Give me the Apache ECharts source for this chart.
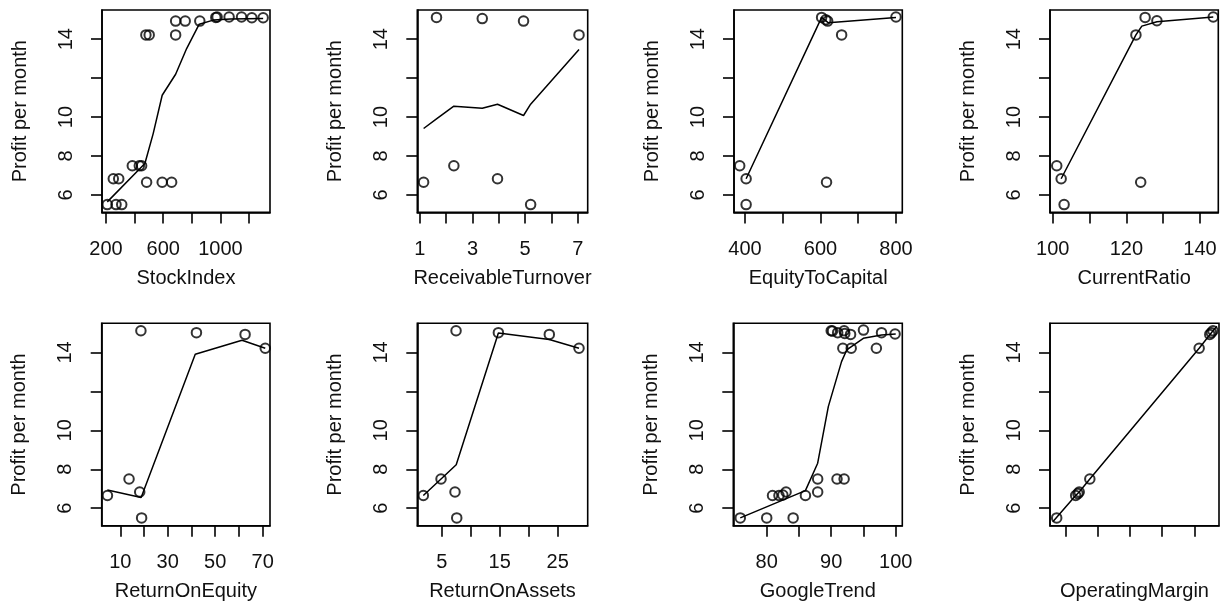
<!DOCTYPE html>
<html>
<head>
<meta charset="utf-8">
<script src="https://cdn.jsdelivr.net/npm/echarts@6/dist/echarts.min.js"></script>
<style>
html,body{margin:0;padding:0;background:#fff;}
#chart{width:1228px;height:605px;}
</style>
</head>
<body>
<div id="chart"></div>
<script>
// ---- Data ----
var yTitle = "Profit per month";
var yTicks = [6, 8, 10, 12, 14];
var yTickLabels = [6, 8, 10, 14];

// StockIndex
var stockIndexX = [209, 270, 310, 251, 289, 384, 433, 449, 484, 593, 659, 479, 502, 687, 687, 754, 856, 968, 977, 1061, 1148, 1220, 1299];
var stockIndexY = [5.5, 5.5, 5.5, 6.83, 6.83, 7.5, 7.5, 7.5, 6.65, 6.65, 6.65, 14.22, 14.22, 14.22, 14.93, 14.93, 14.93, 15.12, 15.14, 15.14, 15.14, 15.1, 15.1];
var stockIndexFitX = [209, 472, 530, 593, 687, 764, 852, 950, 1070, 1299];
var stockIndexFitY = [5.64, 7.61, 9.15, 11.12, 12.2, 13.52, 14.77, 14.98, 15.04, 15.06];
var stockIndexTicks = [200, 400, 600, 800, 1000, 1200];
var stockIndexLabels = [200, 600, 1000];

// ReceivableTurnover
var receivableX = [1.14, 1.63, 2.29, 3.37, 3.95, 4.94, 5.21, 7.05];
var receivableY = [6.65, 15.12, 7.5, 15.06, 6.83, 14.93, 5.5, 14.22];
var receivableFitX = [1.14, 1.63, 2.29, 3.37, 3.95, 4.94, 5.21, 7.05];
var receivableFitY = [9.41, 9.91, 10.56, 10.45, 10.66, 10.08, 10.66, 13.47];
var receivableTicks = [1, 2, 3, 4, 5, 6, 7];
var receivableLabels = [1, 3, 5, 7];

// EquityToCapital
var equityX = [386, 403, 403, 603, 614, 619, 616, 656, 800];
var equityY = [7.5, 6.83, 5.5, 15.12, 15.0, 14.93, 6.65, 14.22, 15.14];
var equityFitX = [403, 603, 621, 800];
var equityFitY = [6.83, 15.12, 14.84, 15.12];
var equityTicks = [400, 500, 600, 700, 800];
var equityLabels = [400, 600, 800];

// CurrentRatio
var currentX = [101.1, 102.3, 103.1, 122.6, 123.9, 125.1, 128.3, 143.6];
var currentY = [7.5, 6.83, 5.5, 14.22, 6.65, 15.12, 14.95, 15.14];
var currentFitX = [102.3, 122.6, 124.2, 128.3, 143.6];
var currentFitY = [6.83, 14.22, 14.67, 14.9, 15.14];
var currentTicks = [100, 110, 120, 130, 140];
var currentLabels = [100, 120, 140];

// ReturnOnEquity
var roeX = [4.6, 13.7, 18.2, 19.0, 18.7, 42.1, 62.6, 71.1];
var roeY = [6.65, 7.5, 6.83, 5.5, 15.12, 15.02, 14.93, 14.22];
var roeFitX = [4.6, 18.8, 41.6, 61.3, 71.1];
var roeFitY = [6.93, 6.55, 13.91, 14.63, 14.22];
var roeTicks = [10, 20, 30, 40, 50, 60, 70];
var roeLabels = [10, 30, 50, 70];

// ReturnOnAssets
var roaX = [1.83, 4.88, 7.29, 7.59, 7.47, 14.77, 23.55, 28.67];
var roaY = [6.65, 7.5, 6.83, 5.5, 15.12, 15.02, 14.93, 14.22];
var roaFitX = [1.83, 4.88, 7.5, 14.77, 23.55, 28.67];
var roaFitY = [6.65, 7.5, 8.23, 15.0, 14.67, 14.22];
var roaTicks = [5, 10, 15, 20, 25];
var roaLabels = [5, 15, 25];

// GoogleTrend
var googleX = [75.9, 80.0, 84.1, 80.9, 81.9, 82.5, 83.0, 86.0, 87.9, 87.9, 90.9, 92.0, 90.0, 90.2, 91.0, 92.0, 92.1, 93.0, 95.0, 97.8, 99.9, 91.8, 93.1, 97.0];
var googleY = [5.5, 5.5, 5.5, 6.65, 6.65, 6.68, 6.83, 6.65, 7.5, 6.83, 7.5, 7.5, 15.12, 15.1, 15.02, 15.12, 14.98, 14.93, 15.15, 15.02, 14.95, 14.22, 14.22, 14.22];
var googleFitX = [75.9, 86.0, 87.9, 89.55, 91.6, 92.4, 94.98, 97.8, 100.0];
var googleFitY = [5.5, 6.9, 8.31, 11.22, 13.53, 14.13, 14.73, 14.9, 14.95];
var googleTicks = [80, 85, 90, 95, 100];
var googleLabels = [80, 90, 100];

// OperatingMargin
var marginX = [0.72, 1.31, 1.38, 1.42, 1.75, 5.15, 5.48, 5.53, 5.58];
var marginY = [5.5, 6.65, 6.75, 6.83, 7.5, 14.22, 14.93, 15.02, 15.12];
var marginFitX = [0.6, 1.31, 1.42, 1.75, 5.15, 5.58, 5.7];
var marginFitY = [5.3, 6.65, 6.83, 7.5, 14.22, 15.12, 15.35];
var marginTicks = [1, 2, 3, 4, 5];
var marginLabels = [];

// ---- Panel layout ----
var panels = [
  {name: "StockIndex", x: stockIndexX, y: stockIndexY, fx: stockIndexFitX, fy: stockIndexFitY, ticks: stockIndexTicks, labels: stockIndexLabels, min: 172, max: 1347, left: 102, top: 10, w: 168},
  {name: "ReceivableTurnover", x: receivableX, y: receivableY, fx: receivableFitX, fy: receivableFitY, ticks: receivableTicks, labels: receivableLabels, min: 0.9, max: 7.38, left: 417.3, top: 10, w: 170.4},
  {name: "EquityToCapital", x: equityX, y: equityY, fx: equityFitX, fy: equityFitY, ticks: equityTicks, labels: equityLabels, min: 370.9, max: 816.7, left: 734, top: 10, w: 168.3},
  {name: "CurrentRatio", x: currentX, y: currentY, fx: currentFitX, fy: currentFitY, ticks: currentTicks, labels: currentLabels, min: 99.27, max: 144.97, left: 1050, top: 10, w: 168.3},
  {name: "ReturnOnEquity", x: roeX, y: roeY, fx: roeFitX, fy: roeFitY, ticks: roeTicks, labels: roeLabels, min: 2.18, max: 73.1, left: 101.7, top: 323.3, w: 168.3},
  {name: "ReturnOnAssets", x: roaX, y: roaY, fx: roaFitX, fy: roaFitY, ticks: roaTicks, labels: roaLabels, min: 0.79, max: 30.17, left: 417.3, top: 323.3, w: 170.4},
  {name: "GoogleTrend", x: googleX, y: googleY, fx: googleFitX, fy: googleFitY, ticks: googleTicks, labels: googleLabels, min: 74.82, max: 101.02, left: 733.3, top: 323.3, w: 169},
  {name: "OperatingMargin", x: marginX, y: marginY, fx: marginFitX, fy: marginFitY, ticks: marginTicks, labels: marginLabels, min: 0.512, max: 5.767, left: 1050, top: 323.3, w: 169}
];

var FONT = "Liberation Sans, Arial, sans-serif";
function plain(v) { return String(v); }
var grids = [], xAxes = [], yAxes = [], series = [];
panels.forEach(function (p, i) {
  grids.push({left: p.left, top: p.top, width: p.w, height: 202.4, show: true, borderColor: "#000", borderWidth: 1.6, backgroundColor: "transparent", containLabel: false});
  xAxes.push({
    type: "value", gridIndex: i, min: p.min, max: p.max,
    name: p.name, nameLocation: "middle", nameGap: 56,
    nameTextStyle: {fontSize: 20, color: "#111", fontFamily: FONT},
    axisLine: {show: true, onZero: false, lineStyle: {color: "#000", width: 1.6}},
    axisTick: {show: true, inside: false, length: 11, customValues: p.ticks, lineStyle: {color: "#000", width: 1.6}},
    axisLabel: {show: p.labels.length > 0, customValues: p.labels, formatter: plain, margin: 27, fontSize: 20, color: "#111", fontFamily: FONT},
    splitLine: {show: false}
  });
  yAxes.push({
    type: "value", gridIndex: i, min: 5.1, max: 15.5,
    name: yTitle, nameLocation: "middle", nameGap: 72, nameRotate: 90,
    nameTextStyle: {fontSize: 20, color: "#111", fontFamily: FONT},
    axisLine: {show: true, onZero: false, lineStyle: {color: "#000", width: 1.6}},
    axisTick: {show: true, inside: false, length: 11, customValues: yTicks, lineStyle: {color: "#000", width: 1.6}},
    axisLabel: {customValues: yTickLabels, formatter: plain, rotate: 90, margin: 26, fontSize: 20, color: "#111", fontFamily: FONT},
    splitLine: {show: false}
  });
  series.push({
    type: "line", xAxisIndex: i, yAxisIndex: i, showSymbol: false, silent: true,
    data: p.fx.map(function (v, k) { return [v, p.fy[k]]; }),
    lineStyle: {color: "#000", width: 1.5}, z: 2
  });
  series.push({
    type: "scatter", xAxisIndex: i, yAxisIndex: i, symbol: "circle", symbolSize: 9.5,
    data: p.x.map(function (v, k) { return [v, p.y[k]]; }),
    itemStyle: {color: "rgba(0,0,0,0)", borderColor: "#000", borderWidth: 2}, z: 3
  });
});

var chart = echarts.init(document.getElementById("chart"), null, {renderer: "canvas"});
chart.setOption({
  animation: false,
  backgroundColor: "#fff",
  grid: grids, xAxis: xAxes, yAxis: yAxes, series: series
});
</script>
</body>
</html>
